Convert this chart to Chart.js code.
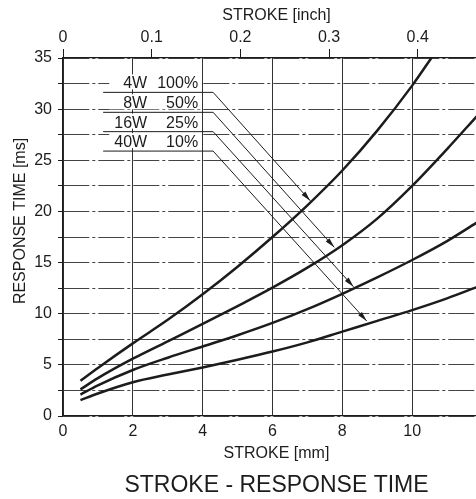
<!DOCTYPE html>
<html>
<head>
<meta charset="utf-8">
<script src="https://cdn.jsdelivr.net/npm/chart.js@4.4.1/dist/chart.umd.min.js"></script>
<style>
    html, body { margin: 0; padding: 0; background: #fff; overflow: hidden; }
    #wrap { width: 490px; height: 499px; }
</style>
</head>
<body>
<div id="wrap"><canvas id="strokeChart" width="490" height="499"></canvas></div>
<script>
// stroke [mm] sample points
const strokeMm   = [0.5, 1, 2, 3, 4, 5, 6, 7, 8, 9, 10, 11, 11.85];
const strokeMm4W = [0.5, 1, 2, 3, 4, 5, 6, 7, 8, 9, 10, 10.55];

// response time [ms]
const response4W  = [3.45, 4.7, 7.1, 9.4, 11.9, 14.6, 17.5, 20.6, 24.0, 27.9, 32.3, 35];
const response8W  = [2.6, 3.7, 5.6, 7.3, 9.0, 10.75, 12.55, 14.5, 16.7, 19.3, 22.5, 26.1, 29.3];
const response16W = [2.1, 3.0, 4.5, 5.7, 6.8, 7.9, 9.1, 10.45, 11.95, 13.55, 15.25, 17.1, 18.9];
const response40W = [1.55, 2.2, 3.3, 4.05, 4.75, 5.5, 6.3, 7.2, 8.25, 9.3, 10.35, 11.5, 12.6];

const powerLabels = ['4W', '8W', '16W', '40W'];
const dutyLabels  = ['100%', '50%', '25%', '10%'];

// leader lines from the labels to the curves (chart units)
const leaderMs    = [31.64, 29.69, 27.8, 25.9];
const arrowTipMm  = [7.08, 7.77, 8.32, 8.70];
const arrowTipMs  = [21.05, 16.49, 12.64, 9.29];

const mmTicks   = [0, 2, 4, 6, 8, 10];
const inchTicks = [0, 0.1, 0.2, 0.3, 0.4];
const MM_MAX = 12.23;

const INK = '#1c1c1c';
const FONT = "'Liberation Sans', Arial, sans-serif";

Chart.defaults.font.family = FONT;
Chart.defaults.color = INK;

const labelPlugin = {
    id: 'labelPlugin',
    beforeDatasetsDraw(chart) {
        const { ctx, scales: { x, y } } = chart;
        const wRight = x.getPixelForValue(2.41);
        const pRight = x.getPixelForValue(3.87);
        ctx.save();
        ctx.font = `16px ${FONT}`;
        ctx.textBaseline = 'alphabetic';
        ctx.textAlign = 'right';
        const maxW = Math.max(...powerLabels.map(t => ctx.measureText(t).width));
        powerLabels.forEach((t, i) => {
            const base = y.getPixelForValue(leaderMs[i]) - 4;
            ctx.fillStyle = '#fff';
            ctx.fillRect(wRight - maxW - 5, base - 14, pRight - wRight + maxW + 8, 15);
            ctx.fillStyle = INK;
            ctx.fillText(t, wRight, base);
            ctx.fillText(dutyLabels[i], pRight, base);
        });
        ctx.restore();
    },
    afterDatasetsDraw(chart) {
        const { ctx, scales: { x, y } } = chart;
        const x0 = x.getPixelForValue(1.15);
        const x1 = x.getPixelForValue(4.30);
        ctx.save();
        ctx.strokeStyle = INK;
        ctx.fillStyle = INK;
        ctx.lineWidth = 1;
        leaderMs.forEach((ms, i) => {
            const y0 = y.getPixelForValue(ms);
            const tx = x.getPixelForValue(arrowTipMm[i]);
            const ty = y.getPixelForValue(arrowTipMs[i]);
            ctx.beginPath();
            ctx.moveTo(x0, y0);
            ctx.lineTo(x1, y0);
            ctx.lineTo(tx, ty);
            ctx.stroke();
            const a = Math.atan2(ty - y0, tx - x1);
            const c = Math.cos(a), s = Math.sin(a);
            ctx.beginPath();
            ctx.moveTo(tx, ty);
            ctx.lineTo(tx - 10 * c + 2.5 * s, ty - 10 * s - 2.5 * c);
            ctx.lineTo(tx - 10 * c - 2.5 * s, ty - 10 * s + 2.5 * c);
            ctx.closePath();
            ctx.fill();
        });
        ctx.restore();
    },
    afterDraw(chart) {
        const { ctx } = chart;
        ctx.save();
        ctx.translate(21, 221);
        ctx.rotate(-Math.PI / 2);
        ctx.font = `16px ${FONT}`;
        ctx.fillStyle = INK;
        ctx.textAlign = 'center';
        ctx.textBaseline = 'middle';
        ctx.fillText('RESPONSE TIME [ms]', 0, 0);
        ctx.restore();
    }
};

function curve(xs, ys) {
    return {
        data: xs.map((v, i) => ({ x: v, y: ys[i] })),
        borderColor: INK,
        borderWidth: 2.5,
        pointRadius: 0,
        cubicInterpolationMode: 'monotone',
        fill: false
    };
}

new Chart(document.getElementById('strokeChart'), {
    type: 'line',
    data: {
        datasets: [
            curve(strokeMm4W, response4W),
            curve(strokeMm, response8W),
            curve(strokeMm, response16W),
            curve(strokeMm, response40W)
        ]
    },
    options: {
        responsive: false,
        animation: false,
        events: [],
        plugins: {
            legend: { display: false },
            tooltip: { enabled: false },
            title: {
                display: true,
                text: 'STROKE - RESPONSE TIME',
                position: 'bottom',
                fullSize: false,
                color: INK,
                font: { size: 23, weight: 'normal' },
                padding: { top: 8, bottom: 0 }
            }
        },
        scales: {
            x: {
                type: 'linear',
                position: 'bottom',
                min: 0,
                max: MM_MAX,
                afterBuildTicks: s => { s.ticks = mmTicks.map(value => ({ value })); },
                afterFit: s => { s.height = 47.4; },
                grid: { color: '#333', lineWidth: 1, drawTicks: false },
                border: { display: true, color: INK, width: 1.3 },
                ticks: { font: { size: 16 }, padding: 6, color: INK, maxRotation: 0 },
                title: { display: true, text: 'STROKE [mm]', font: { size: 16 }, color: INK, padding: { top: 0, bottom: 0 } }
            },
            xInch: {
                type: 'linear',
                position: 'top',
                min: 0,
                max: MM_MAX / 25.4,
                afterBuildTicks: s => { s.ticks = inchTicks.map(value => ({ value })); },
                afterFit: s => { s.height = 58; },
                grid: { drawOnChartArea: false, drawTicks: true, tickLength: 9, color: INK, tickColor: INK },
                border: { display: true, color: INK, width: 1.3 },
                ticks: {
                    font: { size: 16 }, padding: 2, color: INK, maxRotation: 0,
                    callback: v => (v === 0 ? '0' : v.toFixed(1))
                },
                title: { display: true, text: 'STROKE [inch]', font: { size: 16 }, color: INK, padding: { top: 6, bottom: 0 } }
            },
            y: {
                type: 'linear',
                min: 0,
                max: 35,
                afterFit: s => { s.width = 63; },
                grid: { color: '#444', lineWidth: 1, drawTicks: true, tickLength: 5, tickColor: INK, tickBorderDash: [] },
                border: { display: true, color: INK, width: 1.3, dash: [26, 3, 3, 3] },
                ticks: {
                    stepSize: 2.5, font: { size: 16 }, padding: 6, color: INK,
                    callback: v => (v % 5 === 0 ? String(v) : '')
                }
            }
        }
    },
    plugins: [labelPlugin]
});
</script>
</body>
</html>
